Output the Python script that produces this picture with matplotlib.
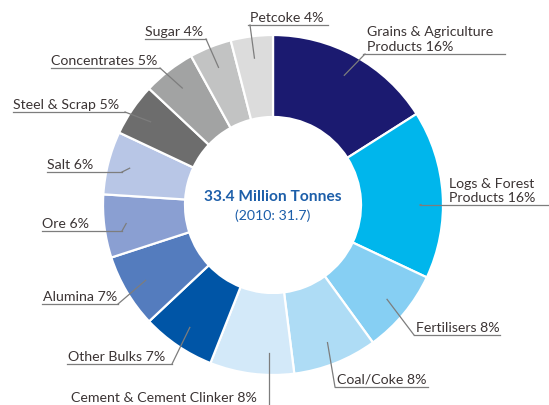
import numpy as np
import matplotlib.pyplot as plt

categories = ["Grains & Agriculture\nProducts", "Logs & Forest\nProducts", "Fertilisers",
              "Coal/Coke", "Cement & Cement Clinker", "Other Bulks", "Alumina", "Ore",
              "Salt", "Steel & Scrap", "Concentrates", "Sugar", "Petcoke"]
shares = [16, 16, 8, 8, 8, 7, 7, 6, 6, 5, 5, 4, 4]
colors = ["#1b1a70", "#00b6ec", "#86cff3", "#aedcf5", "#d3e9f9", "#0055a6", "#547cbe",
          "#8a9fd2", "#b8c6e6", "#6d6d6d", "#a2a3a3", "#c2c3c3", "#dcdcdc"]
total = "33.4 Million Tonnes"
previous = "(2010: 31.7)"

# label layout in pixel units (y grows downward):
# text x, underline y, underline x0, x1, leader attach x, position along wedge
layout = [
    (367, 54, 363, 505, 365, 0.5),
    (449, 205, 420, 549, None, 0.56),
    (416, 335, 414, 500, 414, 0.5),
    (337, 387, 335, 428, 335, 0.5),
    (71, None, None, None, None, 0.3),
    (68, 364, 67, 172, 172, 0.5),
    (43, 304, 42, 118, 118, 0.5),
    (42, 231, 42, 122, 122, 0.5),
    (47, 172, 47, 122, 122, 0.5),
    (13, 112, 13, 125, 125, 0.5),
    (51, 68, 51, 160, 160, 0.5),
    (145, 39, 145, 206, 206, 0.5),
    (250, 25, 248, 328, 250, 0.5),
]

W, H = 549, 405
cx, cy, R = 273, 205, 170
plt.rcParams['font.family'] = ['Lato', 'DejaVu Sans']

fig = plt.figure(figsize=(W / 100, H / 100), dpi=100)
ax = fig.add_axes([0, 0, 1, 1])

# y axis is inverted below, so counterclock in data runs clockwise on screen
wedges, _ = ax.pie(shares, colors=colors, startangle=-90, counterclock=True,
                   radius=R, center=(cx, cy),
                   wedgeprops=dict(width=82, edgecolor="white", linewidth=1.6))
ax.set_xlim(0, W)
ax.set_ylim(H, 0)
ax.set_aspect("equal")
ax.axis("off")

txt_color = "#3b3434"
line_color = "#7d7d7d"
for w, cat, pct, (tx, uy, ux0, ux1, attach, frac) in zip(wedges, categories, shares, layout):
    ang = np.deg2rad(w.theta1 + frac * (w.theta2 - w.theta1))
    axx = cx + 148 * np.cos(ang)
    axy = cy + 148 * np.sin(ang)
    label = f"{cat} {pct}%"
    if uy is None:
        # bottom label: plain vertical leader running off the canvas
        ax.text(tx, 402, label, ha="left", va="baseline", fontsize=10.2, color=txt_color)
        ax.plot([axx, axx], [axy, H], color=line_color, lw=0.9)
        continue
    ax.text(tx, uy - 3, label, ha="left", va="baseline", fontsize=10.2, color=txt_color,
            linespacing=1.25)
    ax.plot([ux0, ux1], [uy, uy], color=line_color, lw=0.9)
    if attach is None:
        ax.plot([axx, ux0], [axy, uy], color=line_color, lw=0.9)
    else:
        ax.plot([attach, axx], [uy, axy], color=line_color, lw=0.9)

ax.text(cx, 201, total, ha="center", va="baseline", fontsize=11.2, fontweight="bold",
        color="#1c5ea9")
ax.text(cx, 220, previous, ha="center", va="baseline", fontsize=10.2, color="#1c5ea9")

fig.savefig("out.png", dpi=100)
